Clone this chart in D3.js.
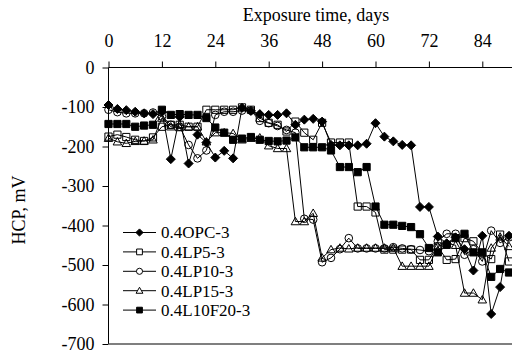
<!DOCTYPE html>
<html>
<head>
<meta charset="utf-8">
<script src="https://cdn.jsdelivr.net/npm/d3@7"></script>
<style>
  html, body { margin: 0; padding: 0; background: #fff; }
  svg { display: block; }
  text { font-family: "Liberation Serif", "Times New Roman", serif; fill: #000; }
</style>
</head>
<body>
<svg id="chart" width="512" height="358"></svg>
<script>
// Half-cell potential readings, every 2 days of exposure
const days = [0, 2, 4, 6, 8, 10, 12, 14, 16, 18, 20, 22, 24, 26, 28, 30, 32, 34, 36, 38,
  40, 42, 44, 46, 48, 50, 52, 54, 56, 58, 60, 62, 64, 66, 68, 70, 72, 74, 76, 78,
  80, 82, 84, 86, 88, 90];

const opc = [-95, -105, -108, -112, -116, -118, -112, -232, -125, -243, -170, -190, -228, -211, -230, -102,
  -110, -118, -120, -120, -116, -145, -132, -130, -137, -196, -197, -197, -197, -193, -141, -175,
  -187, -196, -197, -353, -353, -428, -445, -430, -460, -514, -426, -624, -556, -426];

const lp5 = [-175, -170, -176, -183, -186, -177, -150, -145, -145, -150, -150, -107, -107, -107, -107, -101,
  -107, -128, -140, -145, -162, -137, -165, -183, -140, -190, -190, -190, -352, -352, -367, -461,
  -461, -461, -461, -487, -487, -453, -487, -485, -432, -440, -470, -485, -423, -491];

const lp10 = [-107, -113, -116, -116, -116, -114, -124, -145, -150, -196, -230, -210, -120, -112, -112, -109,
  -109, -135, -141, -148, -158, -165, -383, -385, -493, -482, -460, -432, -458, -458, -458, -458,
  -455, -458, -460, -462, -465, -440, -421, -421, -474, -460, -491, -413, -444, -430];

const lp15 = [-179, -188, -192, -187, -186, -183, -128, -150, -152, -150, -150, -188, -165, -165, -167, -183,
  -179, -178, -198, -205, -205, -390, -390, -369, -482, -461, -457, -459, -457, -457, -457, -457,
  -457, -503, -503, -503, -503, -453, -445, -450, -571, -571, -588, -457, -429, -453];

const l10f20 = [-143, -143, -143, -150, -147, -145, -107, -120, -118, -120, -120, -128, -152, -165, -183, -180,
  -176, -183, -186, -187, -185, -177, -202, -202, -202, -210, -252, -252, -265, -252, -352, -398,
  -398, -401, -404, -422, -457, -468, -449, -432, -421, -468, -468, -530, -510, -519];

const seriesNames = ["0.4OPC-3", "0.4LP5-3", "0.4LP10-3", "0.4LP15-3", "0.4L10F20-3"];
const seriesValues = [opc, lp5, lp10, lp15, l10f20];
const seriesMarkers = ["diamond", "square", "circle", "triangle", "filledSquare"];

const xTicks = [0, 12, 24, 36, 48, 60, 72, 84];
const yTicks = [0, -100, -200, -300, -400, -500, -600, -700];

const svg = d3.select("#chart");
const FONT = "'Liberation Serif', 'Times New Roman', serif";

const x = d3.scaleLinear().domain([0, 96]).range([108.5, 108.5 + 96 * 4.45]);
const y = d3.scaleLinear().domain([-700, 0]).range([344, 67.5]);

// marker path generators, centred on the origin
function markerPath(kind, s) {
  if (kind === "diamond") {
    return `M0,${-s}L${s},0L0,${s}L${-s},0Z`;
  }
  if (kind === "square" || kind === "filledSquare") {
    const h = s * 0.8;
    return `M${-h},${-h}H${h}V${h}H${-h}Z`;
  }
  if (kind === "circle") {
    const r = s * 0.85;
    return `M${r},0A${r},${r} 0 1,1 ${-r},0A${r},${r} 0 1,1 ${r},0Z`;
  }
  if (kind === "triangle") {
    const h = s * 0.95;
    return `M0,${-h}L${h},${h * 0.75}L${-h},${h * 0.75}Z`;
  }
}
const filled = k => k === "diamond" || k === "filledSquare";

// plain hyphen-minus labels
const plainFormat = d => String(d);

// axes
const topAxis = d3.axisTop(x).tickValues(xTicks).tickSize(6).tickPadding(15)
  .tickFormat(plainFormat);
const gx = svg.append("g").attr("transform", `translate(0,${y(0)})`).call(topAxis);
gx.select(".domain").attr("d", `M${x(0)},0H${x(96)}`);

const leftAxis = d3.axisLeft(y).tickValues(yTicks).tickSize(6).tickPadding(8)
  .tickFormat(plainFormat);
const gy = svg.append("g").attr("transform", `translate(${x(0)},0)`).call(leftAxis);
gy.select(".domain").attr("d", `M0,${y(0)}V${y(-700)}`);

[gx, gy].forEach(g => {
  g.attr("font-family", FONT).attr("font-size", 18);
  g.selectAll("text").style("font-size", "18px").style("font-family", FONT);
  g.selectAll("path, line").attr("stroke", "#000").attr("stroke-width", 1);
});

// bottom frame line
svg.append("line")
  .attr("x1", x(0)).attr("x2", x(96))
  .attr("y1", y(-700)).attr("y2", y(-700))
  .attr("stroke", "#555").attr("stroke-width", 1.5);

// axis titles
svg.append("text")
  .attr("x", 316).attr("y", 21)
  .attr("text-anchor", "middle")
  .style("font-size", "18px")
  .text("Exposure time, days");

svg.append("text")
  .attr("transform", "translate(25,210) rotate(-90)")
  .attr("text-anchor", "middle")
  .style("font-size", "18px")
  .text("HCP, mV");

// data lines and markers
const line = d3.line().defined(d => d[1] != null).x(d => x(d[0])).y(d => y(d[1]));
const plot = svg.append("g");

seriesValues.forEach((vals, i) => {
  const pts = days.map((d, j) => [d, vals[j]]);
  const kind = seriesMarkers[i];
  plot.append("path")
    .attr("d", line(pts))
    .attr("fill", "none")
    .attr("stroke", "#000")
    .attr("stroke-width", 1);
  plot.append("g").selectAll("path")
    .data(pts.filter(p => p[1] != null))
    .join("path")
    .attr("transform", p => `translate(${x(p[0])},${y(p[1])})`)
    .attr("d", markerPath(kind, 4.5))
    .attr("fill", filled(kind) ? "#000" : "none")
    .attr("stroke", "#000")
    .attr("stroke-width", 1);
});

// legend
const legend = svg.append("g");
const legendY0 = 232.5, legendStep = 19.4;
seriesNames.forEach((name, i) => {
  const yy = legendY0 + i * legendStep;
  const kind = seriesMarkers[i];
  legend.append("line")
    .attr("x1", 123).attr("x2", 156)
    .attr("y1", yy).attr("y2", yy)
    .attr("stroke", "#000").attr("stroke-width", 1);
  legend.append("path")
    .attr("transform", `translate(139.5,${yy})`)
    .attr("d", markerPath(kind, 3.6))
    .attr("fill", filled(kind) ? "#000" : "#fff")
    .attr("stroke", "#000").attr("stroke-width", 1);
  legend.append("text")
    .attr("x", 161).attr("y", yy)
    .attr("dy", "0.35em")
    .style("font-size", "17px")
    .text(name);
});
</script>
</body>
</html>
